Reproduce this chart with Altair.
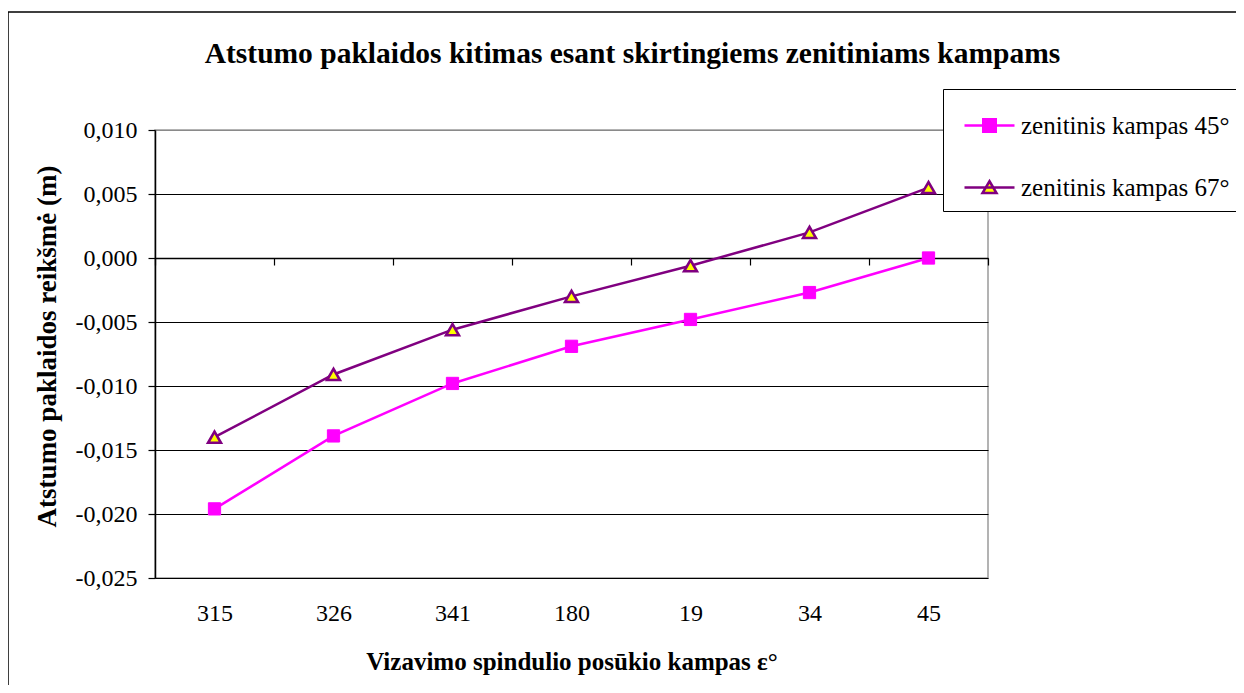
import altair as alt
import pandas as pd

# ---------------- data ----------------
categories = ["315", "326", "341", "180", "19", "34", "45"]
series_names = ["zenitinis kampas 45°", "zenitinis kampas 67°"]
values_45 = [-0.0196, -0.0139, -0.0098, -0.0069, -0.0048, -0.0027, 0.0000]
values_67 = [-0.0140, -0.0091, -0.0056, -0.0030, -0.0006, 0.0020, 0.0055]
y_ticks = [-0.025, -0.020, -0.015, -0.010, -0.005, 0.000, 0.005, 0.010]

title_text = "Atstumo paklaidos kitimas esant skirtingiems zenitiniams kampams"
x_title = "Vizavimo spindulio posūkio kampas ε°"
y_title = "Atstumo paklaidos reikšmė (m)"

rows = []
for i, c in enumerate(categories):
    rows.append({"idx": i, "cat": c, "series": series_names[0], "value": values_45[i]})
    rows.append({"idx": i, "cat": c, "series": series_names[1], "value": values_67[i]})
df = pd.DataFrame(rows)

# ---------------- layout / style ----------------
PW, PH = 833, 448
CANVAS_W, CANVAS_H = 1228, 677
PAD_L, PAD_T = 147, 122
Y_MIN, Y_MAX = -0.025, 0.010
FONT = "Liberation Serif"
MAGENTA = "#FF00FF"
PURPLE = "#800080"
YELLOW = "#FFFF00"

n = len(categories)
x_scale = alt.Scale(domain=[-0.5, n - 0.5], nice=False, zero=False)
y_scale = alt.Scale(domain=[Y_MIN, Y_MAX], nice=False, zero=False)
zero_offset = -round((0 - Y_MIN) / (Y_MAX - Y_MIN) * PH)

label_expr = "[" + ",".join(f"'{c}'" for c in categories) + "][round(datum.value)]"

axis_ticks = alt.Axis(
    orient="bottom", offset=zero_offset, values=[i - 0.5 for i in range(n + 1)],
    labels=False, ticks=True, tickSize=7, tickColor="black", tickWidth=1.2,
    domain=True, domainColor="black", domainWidth=1.5, grid=False, title=None,
)
axis_labels = alt.Axis(
    orient="bottom", values=list(range(n)), labelExpr=label_expr,
    labelFont=FONT, labelFontSize=24, labelColor="black", labelPadding=23,
    ticks=False, tickSize=0, domain=False, grid=False,
    title=x_title, titleFont=FONT, titleFontSize=25, titleFontWeight="bold",
    titleColor="black", titleX=PW / 2, titleY=83, titleBaseline="middle",
)
y_axis = alt.Axis(
    values=y_ticks,
    labelExpr="replace(replace(format(datum.value, '.3f'), '.', ','), '\u2212', '-')",
    labelFont=FONT, labelFontSize=24, labelColor="black", labelPadding=11,
    tickSize=7, tickColor="black", tickWidth=1.2,
    domainColor="black", domainWidth=1.5,
    grid=True, gridWidth=1,
    gridColor=alt.condition("datum.value > 0.0099", alt.value("#8a8a8a"), alt.value("black")),
    title=y_title, titleFont=FONT, titleFontSize=27, titleFontWeight="bold",
    titleColor="black", titleX=-108, titleY=216, titleBaseline="middle",
)

base = alt.Chart(df)
y_enc = alt.Y("value:Q", scale=y_scale, axis=y_axis)

def x_enc(axis):
    return alt.X("idx:Q", scale=x_scale, axis=axis)

line45 = base.transform_filter(alt.datum.series == series_names[0]).mark_line(
    color=MAGENTA, strokeWidth=2.5).encode(x=x_enc(axis_ticks), y=y_enc)
line67 = base.transform_filter(alt.datum.series == series_names[1]).mark_line(
    color=PURPLE, strokeWidth=2.5).encode(x=x_enc(axis_labels), y=y_enc)
pts45 = base.transform_filter(alt.datum.series == series_names[0]).mark_point(
    shape="square", filled=True, fill=MAGENTA, stroke=MAGENTA, strokeWidth=1,
    size=150, opacity=1).encode(x=x_enc(None), y=y_enc)
pts67 = base.transform_filter(alt.datum.series == series_names[1]).mark_point(
    shape="triangle-up", filled=True, fill=YELLOW, stroke=PURPLE, strokeWidth=2.6,
    size=165, opacity=1).encode(x=x_enc(None), y=y_enc)

# legend carrier (no marks drawn, legend from explicit scale domains)
sym45 = "M-1,0H1M-0.25,-0.25H0.25V0.25H-0.25Z"
sym67 = "M-1,0H1M0,-0.25L0.28,0.22H-0.28Z"
leg = alt.Legend(
    title=None, orient="none", legendX=788, legendY=-41,
    fillColor="white", strokeColor="black", padding=10, symbolOffset=10,
    symbolSize=2500, symbolStrokeWidth=2.5, rowPadding=22, labelOffset=5,
    labelFont=FONT, labelFontSize=25, labelColor="black", labelLimit=500,
)
legend_layer = base.transform_filter("false").mark_point(filled=True, opacity=1).encode(
    fill=alt.Fill("series:N", scale=alt.Scale(domain=series_names, range=[MAGENTA, YELLOW]), legend=leg),
    stroke=alt.Stroke("series:N", scale=alt.Scale(domain=series_names, range=[MAGENTA, PURPLE]), legend=leg),
    shape=alt.Shape("series:N", scale=alt.Scale(domain=series_names, range=[sym45, sym67]), legend=leg),
)

frame = alt.Chart(pd.DataFrame({"a": [0]})).mark_rect(
    fill=None, stroke="black", strokeWidth=1.5).encode(
    x=alt.value(-147), y=alt.value(-118), x2=alt.value(1300), y2=alt.value(800))

chart = alt.layer(frame, line45, line67, pts45, pts67, legend_layer).resolve_axis(
    x="independent"
).properties(
    width=PW, height=PH,
    autosize=alt.AutoSizeParams(type="none"),
    padding={"left": PAD_L, "top": PAD_T, "right": CANVAS_W - PAD_L - PW,
             "bottom": CANVAS_H - PAD_T - PH},
    title=alt.TitleParams(title_text, font=FONT, fontSize=29.5, fontWeight="bold",
                          color="black", anchor="middle", frame="group", dx=61, offset=-58),
).configure_view(stroke="#9a9a9a", strokeWidth=1.5)

chart.save("out.html", embed_options={"renderer": "svg", "actions": False})
